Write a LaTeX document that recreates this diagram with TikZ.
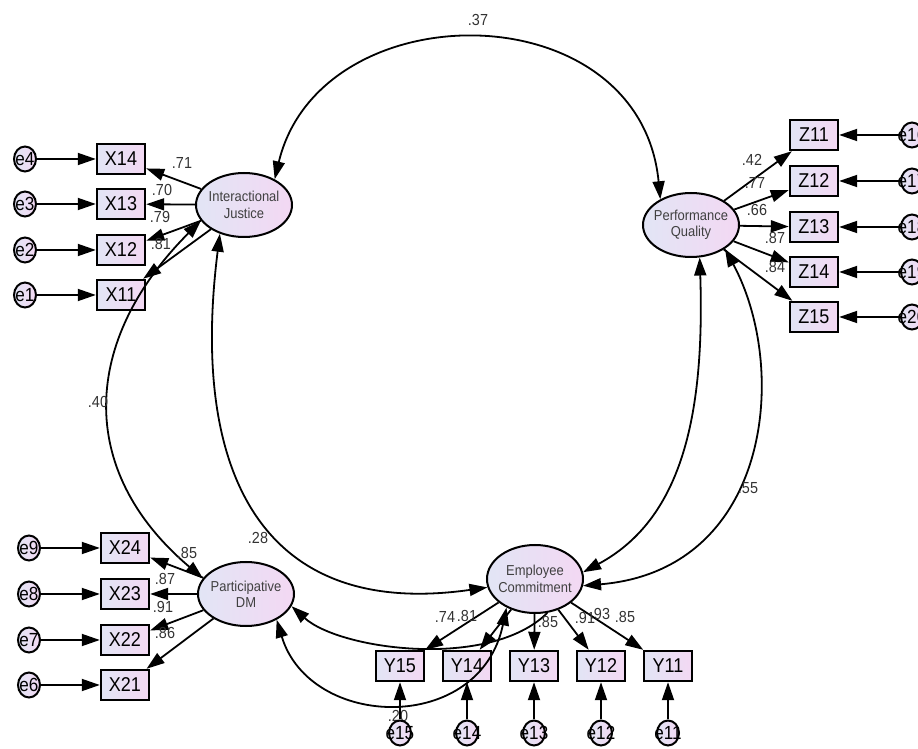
\documentclass[tikz,border=0pt]{standalone}
\usepackage{fontspec}
\setmainfont{Liberation Sans}[FakeStretch=0.9]
\usetikzlibrary{arrows.meta,shapes.geometric}
\definecolor{shadeL}{RGB}{226,229,245}
\definecolor{shadeR}{RGB}{243,216,243}
\begin{document}
\begin{tikzpicture}[x=0.5pt,y=-0.5pt,font=\fontsize{8}{8}\selectfont,
	obs/.style={draw,line width=1.2pt,left color=shadeL,right color=shadeR,minimum width=24pt,minimum height=15pt,inner sep=0pt,font=\fontsize{10}{10}\selectfont},
	lat/.style={draw,ellipse,line width=1pt,left color=shadeL,right color=shadeR,minimum width=48pt,minimum height=32pt,inner sep=0pt,label={[align=center,font=\fontsize{7.2}{8.2}\selectfont,text=black!75]center:#1}},
	err/.style={draw,ellipse,line width=1pt,left color=shadeL,right color=shadeR,minimum width=11pt,minimum height=12.5pt,inner sep=0pt,label={[font=\fontsize{9.5}{9.5}\selectfont]center:#1}},
	load/.style={line width=0.9pt,-{Triangle[length=9pt,width=6pt]}},
	cov/.style={line width=0.9pt,{Triangle[length=9pt,width=6pt]}-{Triangle[length=9pt,width=6pt]}},
	est/.style={inner sep=0pt,text=black!80}]
	\useasboundingbox (0,0) rectangle (918,749);
	\clip (0,0) rectangle (918,749);
	\node[lat={Interactional\\Justice}] (ij) at (244,205) {};
	\node[lat={Performance\\Quality}] (pq) at (691,225) {};
	\node[lat={Participative\\DM}] (pdm) at (246,594) {};
	\node[lat={Employee\\Commitment},minimum height=34pt] (ec) at (535,579) {};
	\node[obs] (x14) at (121,159) {X14};
	\node[obs] (x13) at (121,204) {X13};
	\node[obs] (x12) at (121,250) {X12};
	\node[obs] (x11) at (121,295) {X11};
	\node[err=e4] (e4) at (25,159) {};
	\node[err=e3] (e3) at (25,204) {};
	\node[err=e2] (e2) at (25,250) {};
	\node[err=e1] (e1) at (25,295) {};
	\node[obs] (x24) at (125,548) {X24};
	\node[obs] (x23) at (125,594) {X23};
	\node[obs] (x22) at (125,640) {X22};
	\node[obs] (x21) at (125,685) {X21};
	\node[err=e9] (e9) at (29,548) {};
	\node[err=e8] (e8) at (29,594) {};
	\node[err=e7] (e7) at (29,640) {};
	\node[err=e6] (e6) at (29,685) {};
	\node[obs] (z11) at (814,135) {Z11};
	\node[obs] (z12) at (814,181) {Z12};
	\node[obs] (z13) at (814,227) {Z13};
	\node[obs] (z14) at (814,272) {Z14};
	\node[obs] (z15) at (814,317) {Z15};
	\node[err=e16] (e16) at (912,135) {};
	\node[err=e17] (e17) at (912,181) {};
	\node[err=e18] (e18) at (912,227) {};
	\node[err=e19] (e19) at (912,272) {};
	\node[err=e20] (e20) at (912,317) {};
	\node[obs] (y15) at (400,666) {Y15};
	\node[obs] (y14) at (467,666) {Y14};
	\node[obs] (y13) at (534,666) {Y13};
	\node[obs] (y12) at (601,666) {Y12};
	\node[obs] (y11) at (668,666) {Y11};
	\node[est] (le15) at (398,716) {.20};
	\node[err=e15] (e15) at (400,733) {};
	\node[err=e14] (e14) at (467,733) {};
	\node[err=e13] (e13) at (534,733) {};
	\node[err=e12] (e12) at (601,733) {};
	\node[err=e11] (e11) at (668,733) {};
	\draw[load] (e4)--(x14); \draw[load] (e3)--(x13); \draw[load] (e2)--(x12); \draw[load] (e1)--(x11);
	\draw[load] (e9)--(x24); \draw[load] (e8)--(x23); \draw[load] (e7)--(x22); \draw[load] (e6)--(x21);
	\draw[load] (e16)--(z11); \draw[load] (e17)--(z12); \draw[load] (e18)--(z13); \draw[load] (e19)--(z14); \draw[load] (e20)--(z15);
	\draw[load] (e15)--(y15); \draw[load] (e14)--(y14); \draw[load] (e13)--(y13); \draw[load] (e12)--(y12); \draw[load] (e11)--(y11);
	\draw[load] (ij)--(x14); \draw[load] (ij)--(x13); \draw[load] (ij)--(x12); \draw[load] (ij)--(x11);
	\draw[load] (pdm)--(x24); \draw[load] (pdm)--(x23); \draw[load] (pdm)--(x22); \draw[load] (pdm)--(x21);
	\draw[load] (pq)--(z11); \draw[load] (pq)--(z12); \draw[load] (pq)--(z13); \draw[load] (pq)--(z14); \draw[load] (pq)--(z15);
	\draw[load] (ec)--(y15); \draw[load] (ec)--(y14); \draw[load] (ec)--(y13); \draw[load] (ec)--(y12); \draw[load] (ec)--(y11);
	\draw[cov] (ij.40) .. controls (320,-10) and (640,-10) .. (pq.140);
	\draw[cov] (ij.200) .. controls (82,340) and (75,470) .. (pdm.160);
	\draw[cov] (ij.230) .. controls (190,470) and (260,620) .. (ec.190);
	\draw[cov] (pq.-35) .. controls (790,370) and (770,570) .. (ec.-8);
	\draw[cov] (pq.-75) .. controls (705,420) and (680,520) .. (ec.8);
	\draw[line width=0.9pt,{Triangle[length=9pt,width=6pt]}-] (pdm.-15) .. controls (340,650) and (490,670) .. (ec.-70);
	\draw[cov] (pdm.-40) .. controls (310,730) and (480,735) .. (ec.-135);
	\node[est] (r37) at (478,20) {.37};
	\node[est] (r40) at (98,402) {.40};
	\node[est] (r28) at (258,538) {.28};
	\node[est] (r55) at (748,488) {.55};
	\node[est] (lx14) at (182,163) {.71};
	\node[est] (lx13) at (162,190) {.70};
	\node[est] (lx12) at (160,217) {.79};
	\node[est] (lx11) at (161,244) {.81};
	\node[est] (lx24) at (187,553) {.85};
	\node[est] (lx23) at (165,579) {.87};
	\node[est] (lx22) at (163,607) {.91};
	\node[est] (lx21) at (165,633) {.86};
	\node[est] (lz11) at (752,160) {.42};
	\node[est] (lz12) at (755,183) {.77};
	\node[est] (lz13) at (757,210) {.66};
	\node[est] (lz14) at (775,238) {.87};
	\node[est] (lz15) at (775,267) {.84};
	\node[est] (ly15) at (445,617) {.74};
	\node[est] (ly14) at (467,616) {.81};
	\node[est] (ly13) at (548,622) {.85};
	\node[est] (ly12) at (585,618) {.91};
	\node[est] (ly11) at (600,614) {.93};
	\node[est] (ly10) at (625,617) {.85};
\end{tikzpicture}
\end{document}
